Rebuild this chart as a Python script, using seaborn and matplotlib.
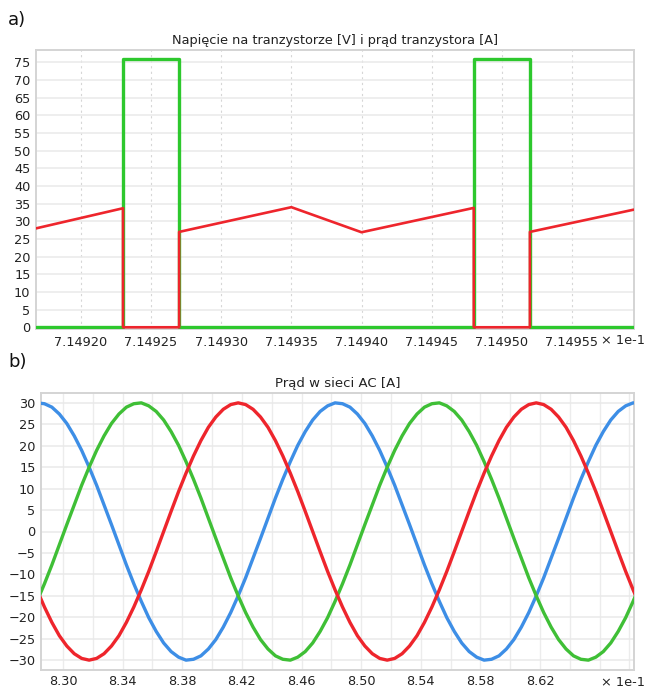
import numpy as np
import pandas as pd
import matplotlib
matplotlib.use("Agg")
import matplotlib.pyplot as plt
import seaborn as sns
from matplotlib.ticker import FixedLocator, FuncFormatter, MultipleLocator

# ---------------- data: panel a) ----------------
t_sw = [7.149168, 7.14923, 7.14923, 7.14927, 7.14927, 7.14935, 7.14940,
        7.14948, 7.14948, 7.14952, 7.14952, 7.149594]
u_ce = [28.0, 33.7, 0.0, 0.0, 27.0, 34.0, 26.9, 33.8, 0.0, 0.0, 27.0, 33.3]

t_i = [7.149168, 7.14923, 7.14923, 7.14927, 7.14927, 7.14948, 7.14948,
       7.14952, 7.14952, 7.149594]
i_t = [0.0, 0.0, 76.0, 76.0, 0.0, 0.0, 76.0, 76.0, 0.0, 0.0]

xticks_a = [7.14920, 7.14925, 7.14930, 7.14935, 7.14940, 7.14945, 7.14950, 7.14955]
xlabels_a = ["7.14920", "7.14925", "7.14930", "7.14935", "7.14940", "7.14945", "7.14950", "7.14955"]
yticks_a = list(range(0, 80, 5))

# ---------------- data: panel b) ----------------
t0_ac, dt_ac = 8.2825, 0.005
i_red = [-13.6, -17.6, -21.2, -24.3, -26.7, -28.5, -29.6, -30.0, -29.6, -28.5,
         -26.7, -24.3, -21.2, -17.6, -13.6, -9.3, -4.7, 0.0, 4.7, 9.3,
         13.6, 17.6, 21.2, 24.3, 26.7, 28.5, 29.6, 30.0, 29.6, 28.5,
         26.7, 24.3, 21.2, 17.6, 13.6, 9.3, 4.7, 0.0, -4.7, -9.3,
         -13.6, -17.6, -21.2, -24.3, -26.7, -28.5, -29.6, -30.0, -29.6, -28.5,
         -26.7, -24.3, -21.2, -17.6, -13.6, -9.3, -4.7, 0.0, 4.7, 9.3,
         13.6, 17.6, 21.2, 24.3, 26.7, 28.5, 29.6, 30.0, 29.6, 28.5,
         26.7, 24.3, 21.2, 17.6, 13.6, 9.3, 4.7, 0.0, -4.7, -9.3,
         -13.6, -17.6]
i_blue = [30.0, 29.8, 29.0, 27.4, 25.2, 22.3, 18.9, 15.0, 10.8, 6.2,
          1.6, -3.1, -7.8, -12.2, -16.3, -20.1, -23.3, -26.0, -28.0, -29.3,
          -30.0, -29.8, -29.0, -27.4, -25.2, -22.3, -18.9, -15.0, -10.8, -6.2,
          -1.6, 3.1, 7.8, 12.2, 16.3, 20.1, 23.3, 26.0, 28.0, 29.3,
          30.0, 29.8, 29.0, 27.4, 25.2, 22.3, 18.9, 15.0, 10.8, 6.2,
          1.6, -3.1, -7.8, -12.2, -16.3, -20.1, -23.3, -26.0, -28.0, -29.3,
          -30.0, -29.8, -29.0, -27.4, -25.2, -22.3, -18.9, -15.0, -10.8, -6.2,
          -1.6, 3.1, 7.8, 12.2, 16.3, 20.1, 23.3, 26.0, 28.0, 29.3,
          30.0, 29.8]
i_green = [-16.3, -12.2, -7.8, -3.1, 1.6, 6.2, 10.8, 15.0, 18.9, 22.3,
           25.2, 27.4, 29.0, 29.8, 30.0, 29.3, 28.0, 26.0, 23.3, 20.1,
           16.3, 12.2, 7.8, 3.1, -1.6, -6.2, -10.8, -15.0, -18.9, -22.3,
           -25.2, -27.4, -29.0, -29.8, -30.0, -29.3, -28.0, -26.0, -23.3, -20.1,
           -16.3, -12.2, -7.8, -3.1, 1.6, 6.2, 10.8, 15.0, 18.9, 22.3,
           25.2, 27.4, 29.0, 29.8, 30.0, 29.3, 28.0, 26.0, 23.3, 20.1,
           16.3, 12.2, 7.8, 3.1, -1.6, -6.2, -10.8, -15.0, -18.9, -22.3,
           -25.2, -27.4, -29.0, -29.8, -30.0, -29.3, -28.0, -26.0, -23.3, -20.1,
           -16.3, -12.2]
t_ac = np.round(t0_ac + dt_ac * np.arange(len(i_red)), 4)

xticks_b = [8.30, 8.34, 8.38, 8.42, 8.46, 8.50, 8.54, 8.58, 8.62]
yticks_b = list(range(-30, 35, 5))

# ---------------- styling ----------------
sns.set_style("white")
plt.rcParams["font.family"] = ["DejaVu Sans"]

C_RED = "#ee252c"
C_GREEN = "#2dc82d"
C_GREEN_B = "#3fbf36"
C_BLUE = "#3d8ee6"
SPINE = "#d4d4d4"
TXT = "#222222"

fig = plt.figure(figsize=(6.47, 6.91), dpi=100)
W, H = 647.0, 691.0

def px_axes(l, t, r, b):
    return fig.add_axes([l / W, 1 - b / H, (r - l) / W, (b - t) / H])

ax1 = px_axes(36, 50, 634, 329.5)
ax2 = px_axes(41, 393, 634, 670)

# panel a
df_i = pd.DataFrame({"t": t_i, "v": i_t})
df_u = pd.DataFrame({"t": t_sw, "v": u_ce})
sns.lineplot(data=df_i, x="t", y="v", ax=ax1, sort=False, estimator=None,
             color=C_GREEN, lw=2.4, zorder=3)
sns.lineplot(data=df_u, x="t", y="v", ax=ax1, sort=False, estimator=None,
             color=C_RED, lw=1.9, zorder=4)
ax1.set_xlim(7.149168, 7.1495942)
ax1.set_ylim(-0.63, 78.5)
ax1.xaxis.set_major_locator(FixedLocator(xticks_a))
ax1.set_xticklabels(xlabels_a)
ax1.yaxis.set_major_locator(FixedLocator(yticks_a))
ax1.set_title("Napięcie na tranzystorze [V] i prąd tranzystora [A]",
              fontsize=9.3, color=TXT, pad=4)

# panel b
for y, c in [(i_blue, C_BLUE), (i_green, C_GREEN_B), (i_red, C_RED)]:
    sns.lineplot(x=t_ac, y=y, ax=ax2, sort=False, estimator=None,
                 color=c, lw=2.4, zorder=3)
ax2.set_xlim(8.2852, 8.6831)
ax2.set_ylim(-32.3, 32.3)
ax2.xaxis.set_major_locator(FixedLocator(xticks_b))
ax2.xaxis.set_minor_locator(MultipleLocator(0.02))
ax2.xaxis.set_major_formatter(FuncFormatter(lambda v, p: f"{v:.2f}"))
ax2.yaxis.set_major_locator(FixedLocator(yticks_b))
ax2.set_title("Prąd w sieci AC [A]", fontsize=9.5, color=TXT, pad=4)

for ax in (ax1, ax2):
    ax.set_xlabel("")
    ax.set_ylabel("")
    ax.tick_params(axis="both", which="both", length=0, labelsize=9.3,
                   labelcolor=TXT)
    ax.tick_params(axis="y", pad=4)
    for s in ax.spines.values():
        s.set_color(SPINE)
        s.set_linewidth(1.4)
    ax.grid(True, axis="y", color="#e9e9e9", lw=1.1, ls="-", zorder=0)
    ax.set_axisbelow(True)

ax1.tick_params(axis="x", pad=4.5)
ax2.tick_params(axis="x", pad=3.5)
ax1.grid(True, axis="x", color="#d6d6d6", lw=0.8, ls=(0, (2, 3)))
ax2.grid(True, axis="x", which="both", color="#ececec", lw=1.0, ls="-")

fig.text(8 / W, 1 - 20 / H, "a)", fontsize=13, color="#111111", va="center", ha="left")
fig.text(8 / W, 1 - 362 / H, "b)", fontsize=13, color="#111111", va="center", ha="left")
fig.text(645 / W, 1 - 341 / H, "× 1e-1", fontsize=9.3, color=TXT, va="center", ha="right")
fig.text(645 / W, 1 - 682 / H, "× 1e-1", fontsize=9.3, color=TXT, va="center", ha="right")

fig.savefig("out.png", dpi=100)
